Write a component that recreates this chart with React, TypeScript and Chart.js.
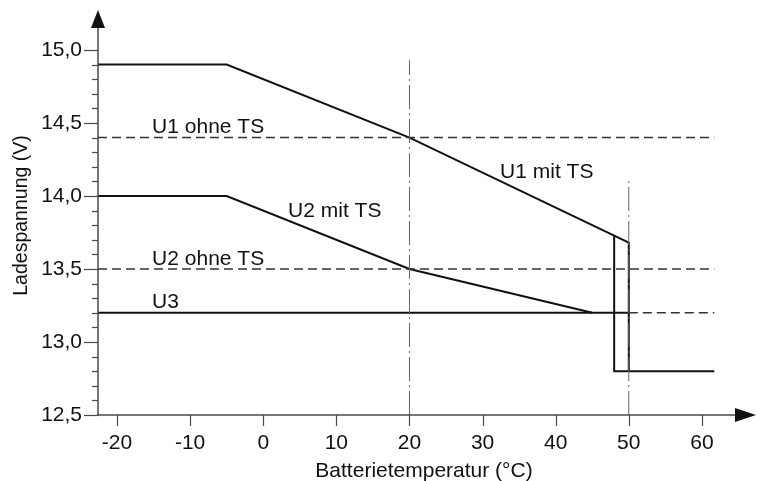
import React, { useEffect, useRef } from "react";
import { Chart, registerables } from "chart.js";

Chart.register(...registerables);

// ---- data (temperature °C, voltage V) ----
const X_MIN = -22.6;
const X_MAX = 67.4;
const Y_MIN = 12.5;
const Y_MAX = 15.274;

const u1MitTsT = [-22.6, -5, 20, 50, 50];
const u1MitTsV = [14.9, 14.9, 14.4, 13.68, 12.8];

const u1CutT = [48, 48, 61.7];
const u1CutV = [13.728, 12.8, 12.8];

const u2MitTsT = [-22.6, -5, 20, 45];
const u2MitTsV = [14.0, 14.0, 13.5, 13.2];

const u3SolidT = [-22.6, 50];
const u3SolidV = [13.2, 13.2];
const u3DashT = [50, 61.7];
const u3DashV = [13.2, 13.2];

const u1OhneTsT = [-22.6, 61.7];
const u1OhneTsV = [14.4, 14.4];
const u2OhneTsT = [-22.6, 61.7];
const u2OhneTsV = [13.5, 13.5];

const mark20T = [20, 20];
const mark20V = [12.5, 14.93];
const mark50T = [50, 50];
const mark50V = [12.5, 14.11];

const xTicks = [-20, -10, 0, 10, 20, 30, 40, 50, 60];
const yMajorTicks = [12.5, 13.0, 13.5, 14.0, 14.5, 15.0];
const yMinorStep = 0.1;

const labelTexts = ["U1 ohne TS", "U2 ohne TS", "U3", "U2 mit TS", "U1 mit TS"];
const labelT = [-15.2, -15.2, -15.2, 3.4, 32.4];
const labelV = [14.43, 13.527, 13.233, 13.856, 14.123];

const xTitle = "Batterietemperatur (°C)";
const yTitle = "Ladespannung (V)";

const FONT = "'Liberation Sans', Arial, sans-serif";

const pts = (xs: number[], ys: number[]) => xs.map((x, i) => ({ x, y: ys[i] }));

const fmt = (v: number) => (Math.round(v * 10) / 10).toFixed(1).replace(".", ",");

const axesPlugin = {
  id: "axesPlugin",
  afterDraw(chart: any) {
    const ctx = chart.ctx as CanvasRenderingContext2D;
    const xs = chart.scales.x;
    const ys = chart.scales.y;
    const x0 = xs.getPixelForValue(X_MIN);
    const y0 = ys.getPixelForValue(Y_MIN);
    const yTop = ys.getPixelForValue(Y_MAX);
    const xRight = xs.getPixelForValue(X_MAX);
    ctx.save();
    ctx.strokeStyle = "#4a4a4a";
    ctx.fillStyle = "#111";
    ctx.lineWidth = 1.5;
    // y axis
    ctx.beginPath();
    ctx.moveTo(x0, y0 + 1);
    ctx.lineTo(x0, yTop + 12);
    ctx.stroke();
    ctx.beginPath();
    ctx.moveTo(x0, yTop);
    ctx.lineTo(x0 - 7, yTop + 18);
    ctx.lineTo(x0 + 7, yTop + 18);
    ctx.closePath();
    ctx.fill();
    // x axis
    ctx.beginPath();
    ctx.moveTo(x0 - 1, y0);
    ctx.lineTo(xRight - 12, y0);
    ctx.stroke();
    ctx.beginPath();
    ctx.moveTo(xRight, y0);
    ctx.lineTo(xRight - 21, y0 - 7);
    ctx.lineTo(xRight - 21, y0 + 7);
    ctx.closePath();
    ctx.fill();
    // y ticks
    ctx.lineWidth = 1.2;
    const nMinor = Math.round((yMajorTicks[yMajorTicks.length - 1] - Y_MIN) / yMinorStep);
    for (let i = 0; i <= nMinor; i++) {
      const v = Y_MIN + i * yMinorStep;
      const py = Math.round(ys.getPixelForValue(v)) + 0.5;
      const major = i % 5 === 0;
      ctx.beginPath();
      ctx.moveTo(x0 - (major ? 14 : 6), py);
      ctx.lineTo(x0, py);
      ctx.stroke();
    }
    // x ticks
    for (const t of xTicks) {
      const px = Math.round(xs.getPixelForValue(t)) + 0.5;
      ctx.beginPath();
      ctx.moveTo(px, y0);
      ctx.lineTo(px, y0 + 11);
      ctx.stroke();
    }
    // in-plot labels
    ctx.fillStyle = "#111";
    ctx.font = `21px ${FONT}`;
    ctx.textAlign = "left";
    ctx.textBaseline = "alphabetic";
    labelTexts.forEach((txt, i) => {
      ctx.fillText(txt, xs.getPixelForValue(labelT[i]), ys.getPixelForValue(labelV[i]));
    });
    // axis titles
    ctx.textAlign = "center";
    ctx.fillText(xTitle, (x0 + xRight) / 2 - 3, 477);
    ctx.save();
    ctx.translate(27, (y0 + yTop) / 2 + 3);
    ctx.rotate(-Math.PI / 2);
    ctx.font = `19.5px ${FONT}`;
    ctx.fillText(yTitle, 0, 0);
    ctx.restore();
    ctx.restore();
  },
};

export default function App() {
  const ref = useRef<HTMLCanvasElement | null>(null);
  useEffect(() => {
    if (!ref.current) return;
    const solid = { borderColor: "#111", borderWidth: 2, pointRadius: 0, showLine: true, fill: false };
    const dashed = { borderColor: "#333", borderWidth: 1.5, borderDash: [9, 5], pointRadius: 0, showLine: true, fill: false };
    const dashDot = { borderColor: "#666", borderWidth: 1, borderDash: [24, 4, 2, 4], pointRadius: 0, showLine: true, fill: false };
    const chart = new Chart(ref.current, {
      type: "scatter",
      data: {
        datasets: [
          { label: "mark20", data: pts(mark20T, mark20V), ...dashDot },
          { label: "mark50", data: pts(mark50T, mark50V), ...dashDot },
          { label: "U1 ohne TS", data: pts(u1OhneTsT, u1OhneTsV), ...dashed },
          { label: "U2 ohne TS", data: pts(u2OhneTsT, u2OhneTsV), ...dashed },
          { label: "U3 dashed", data: pts(u3DashT, u3DashV), ...dashed },
          { label: "U3", data: pts(u3SolidT, u3SolidV), ...solid },
          { label: "U2 mit TS", data: pts(u2MitTsT, u2MitTsV), ...solid },
          { label: "U1 mit TS", data: pts(u1MitTsT, u1MitTsV), ...solid },
          { label: "U1 cut", data: pts(u1CutT, u1CutV), ...solid },
        ] as any,
      },
      options: {
        animation: false,
        responsive: false,
        maintainAspectRatio: false,
        layout: { padding: { top: 10, right: 7, left: 0, bottom: 0 } },
        plugins: { legend: { display: false }, tooltip: { enabled: false } },
        scales: {
          x: {
            type: "linear",
            min: X_MIN,
            max: X_MAX,
            grid: { display: false, drawTicks: false },
            border: { display: false },
            afterBuildTicks: (s: any) => {
              s.ticks = xTicks.map((v) => ({ value: v }));
            },
            afterFit: (s: any) => {
              s.height = 66;
              s.paddingLeft = 0;
              s.paddingRight = 0;
            },
            ticks: {
              padding: 16,
              color: "#111",
              font: { family: FONT, size: 21 },
              maxRotation: 0,
              autoSkip: false,
              callback: (v: any) => String(v),
            },
          },
          y: {
            type: "linear",
            min: Y_MIN,
            max: Y_MAX,
            grid: { display: false, drawTicks: false },
            border: { display: false },
            afterBuildTicks: (s: any) => {
              s.ticks = yMajorTicks.map((v) => ({ value: v }));
            },
            afterFit: (s: any) => {
              s.width = 98;
              s.paddingTop = 0;
              s.paddingBottom = 0;
            },
            ticks: {
              padding: 16,
              color: "#111",
              font: { family: FONT, size: 21 },
              autoSkip: false,
              callback: (v: any) => fmt(Number(v)),
            },
          },
        },
      },
      plugins: [axesPlugin],
    } as any);
    return () => chart.destroy();
  }, []);
  return (
    <div style={{ position: "absolute", left: 0, top: 0, width: 763, height: 481, background: "#fff" }}>
      <canvas ref={ref} width={763} height={481} style={{ display: "block" }} />
    </div>
  );
}
